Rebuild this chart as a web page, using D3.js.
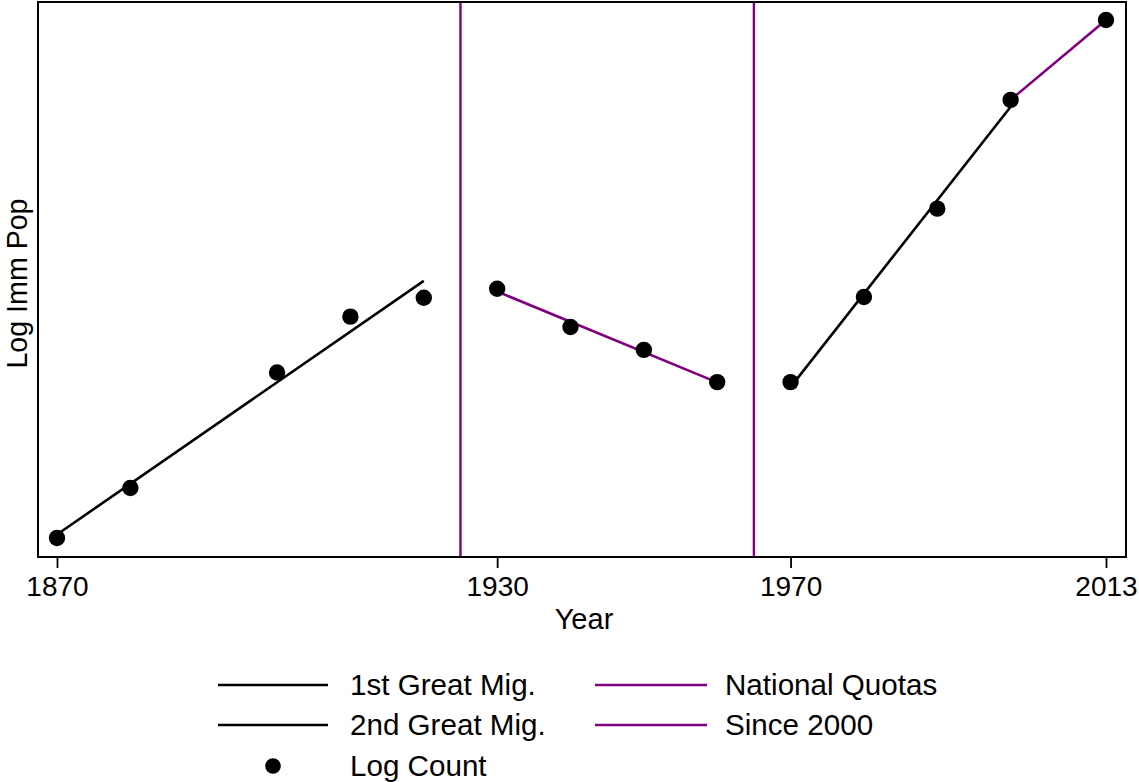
<!DOCTYPE html>
<html>
<head>
<meta charset="utf-8">
<script src="https://cdn.jsdelivr.net/npm/d3@7"></script>
<style>
  html, body { margin: 0; padding: 0; background: #fff; }
  svg { display: block; }
  text { font-family: "Liberation Sans", Arial, Helvetica, sans-serif; fill: #000; }
</style>
</head>
<body>
<svg id="chart" width="1139" height="782"></svg>
<script>
// ---- data ----
const years    = [1870, 1880, 1900, 1910, 1920, 1930, 1940, 1950, 1960, 1970, 1980, 1990, 2000, 2013];
const logCount = [15.530, 15.724, 16.172, 16.389, 16.462, 16.497, 16.349, 16.260, 16.135, 16.135, 16.465, 16.808, 17.230, 17.540];
const periodNames  = ["1st Great Mig.", "National Quotas", "2nd Great Mig.", "Since 2000"];
const periodStart  = [1870, 1930, 1970, 2000];
const periodEnd    = [1920, 1960, 2000, 2013];
const periodColors = ["#000000", "#800080", "#000000", "#800080"];
const policyYears  = [1925, 1965];
const xTicks       = [1870, 1930, 1970, 2013];

// ---- layout ----
const svg = d3.select("#chart");
const plot = {left: 38, right: 1126, top: 2, bottom: 557};
const x = d3.scaleLinear().domain([1870, 2013]).range([57, 1106]);
const y = d3.scaleLinear().domain([15.4563, 17.6099]).range([plot.bottom, plot.top]);

// fitted lines (OLS within each period)
function fit(a, b) {
  const pts = years.map((yr, i) => [yr, logCount[i]]).filter(p => p[0] >= a && p[0] <= b);
  const mx = d3.mean(pts, p => p[0]), my = d3.mean(pts, p => p[1]);
  const sxy = d3.sum(pts, p => (p[0] - mx) * (p[1] - my));
  const sxx = d3.sum(pts, p => (p[0] - mx) ** 2);
  const slope = sxy / sxx, icpt = my - slope * mx;
  return [[a, icpt + slope * a], [b, icpt + slope * b]];
}
const line = d3.line().x(d => x(d[0])).y(d => y(d[1]));

// policy vertical lines
svg.selectAll("line.policy").data(policyYears).enter().append("line")
  .attr("class", "policy")
  .attr("x1", d => x(d)).attr("x2", d => x(d))
  .attr("y1", plot.top).attr("y2", plot.bottom)
  .attr("stroke", "#800080").attr("stroke-width", 2.4);

// fit lines
periodNames.forEach((n, i) => {
  svg.append("path")
    .attr("d", line(fit(periodStart[i], periodEnd[i])))
    .attr("fill", "none")
    .attr("stroke", periodColors[i])
    .attr("stroke-width", 2.6);
});

// points
svg.selectAll("circle.pt").data(years).enter().append("circle")
  .attr("class", "pt")
  .attr("cx", d => x(d))
  .attr("cy", (d, i) => y(logCount[i]))
  .attr("r", 8.2)
  .attr("fill", "#000");

// frame
svg.append("rect")
  .attr("x", plot.left).attr("y", plot.top)
  .attr("width", plot.right - plot.left).attr("height", plot.bottom - plot.top)
  .attr("fill", "none").attr("stroke", "#000").attr("stroke-width", 2);

// x axis
const xAxis = d3.axisBottom(x).tickValues(xTicks).tickFormat(d3.format("d")).tickSize(11).tickPadding(8);
const gx = svg.append("g").attr("transform", `translate(0,${plot.bottom})`).call(xAxis);
gx.select(".domain").remove();
gx.selectAll(".tick line").attr("stroke", "#000").attr("stroke-width", 1.8);
gx.selectAll(".tick text").attr("font-size", 28).attr("font-family", "Liberation Sans, Arial, sans-serif").attr("fill", "#000");

// axis titles
svg.append("text")
  .attr("x", (plot.left + plot.right) / 2 + 2).attr("y", 629)
  .attr("text-anchor", "middle").attr("font-size", 29)
  .text("Year");
svg.append("text")
  .attr("transform", `translate(27,${(plot.top + plot.bottom) / 2 + 4}) rotate(-90)`)
  .attr("text-anchor", "middle").attr("font-size", 28.6)
  .text("Log Imm Pop");

// legend
const legRows = [685, 725, 766];
const legCols = [{x1: 218, x2: 328, tx: 350}, {x1: 595, x2: 707, tx: 725}];
const legItems = [
  {name: periodNames[0], color: periodColors[0], col: 0, row: 0},
  {name: periodNames[1], color: periodColors[1], col: 1, row: 0},
  {name: periodNames[2], color: periodColors[2], col: 0, row: 1},
  {name: periodNames[3], color: periodColors[3], col: 1, row: 1}
];
legItems.forEach(it => {
  const c = legCols[it.col], ry = legRows[it.row];
  svg.append("line").attr("x1", c.x1).attr("x2", c.x2).attr("y1", ry).attr("y2", ry)
    .attr("stroke", it.color).attr("stroke-width", 2.4);
  svg.append("text").attr("x", c.tx).attr("y", ry + 10).attr("font-size", 29.6).text(it.name);
});
svg.append("circle").attr("cx", (legCols[0].x1 + legCols[0].x2) / 2).attr("cy", legRows[2]).attr("r", 7.8).attr("fill", "#000");
svg.append("text").attr("x", legCols[0].tx).attr("y", legRows[2] + 10).attr("font-size", 29.6).text("Log Count");
</script>
</body>
</html>
